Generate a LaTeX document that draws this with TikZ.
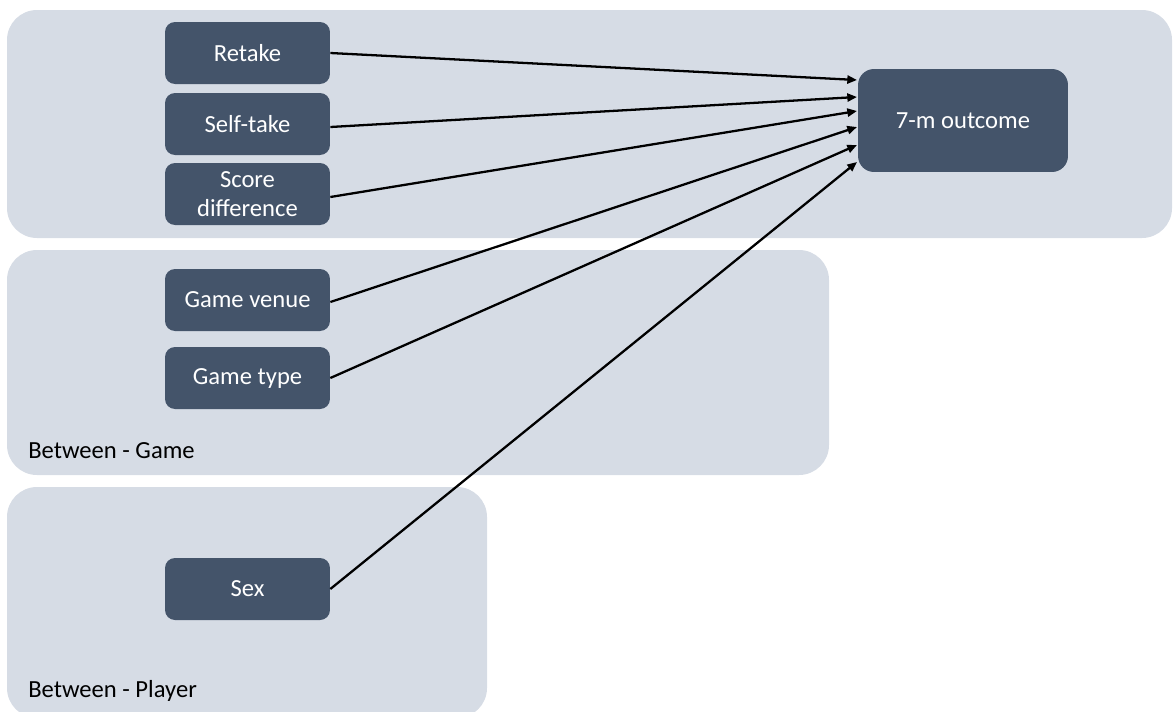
\documentclass[tikz,border=0pt]{standalone}
\usepackage{fontspec}
\setmainfont{Carlito}
\usetikzlibrary{arrows.meta}
\definecolor{grp}{HTML}{D6DCE5}
\definecolor{box}{HTML}{44546A}
\tikzset{
  grpbg/.style={fill=grp, rounded corners=0.6cm},
  varbox/.style={fill=box, text=white, rounded corners=0.2cm, minimum width=3.3cm, minimum height=1.24cm, inner sep=0pt, align=center, font=\fontsize{14}{16.5}\selectfont},
  outbox/.style={fill=box, text=white, rounded corners=0.32cm, minimum width=4.2cm, minimum height=2.06cm, inner sep=0pt, font=\fontsize{14}{16.5}\selectfont},
  grplabel/.style={anchor=base west, inner sep=0pt, text=black, font=\fontsize{14}{16.5}\selectfont},
  arr/.style={-{Triangle[length=5.5pt,width=4.6pt]}, line width=1.3pt, black}
}
\begin{document}
\begin{tikzpicture}[x=0.02cm, y=-0.02cm]
  \useasboundingbox (0,0) rectangle (1173,711);
  \begin{scope}
    \clip (0,0) rectangle (1173,711);
    \fill[grpbg] (7,10) rectangle (1172,238);
    \fill[grpbg] (7,250) rectangle (829,475);
    \fill[grpbg] (7,487) rectangle (487,718);
  \end{scope}
  \node[grplabel] (lgame) at (28,458) {Between - Game};
  \node[grplabel] (lplayer) at (28,697) {Between - Player};

  \node[varbox] (ret) at (247.5,53) {Retake};
  \node[varbox] (self) at (247.5,124) {Self-take};
  \node[varbox] (score) at (247.5,194) {Score\\difference};
  \node[varbox] (venue) at (247.5,300) {Game venue};
  \node[varbox] (type) at (247.5,378) {Game type};
  \node[varbox] (sex) at (247.5,589) {Sex};
  \node[outbox] (out) at (963,120.5) {7-m outcome};

  \coordinate (e1) at (857,80);
  \coordinate (e2) at (857,97);
  \coordinate (e3) at (857,111);
  \coordinate (e4) at (857,127);
  \coordinate (e5) at (857,145);
  \coordinate (e6) at (857,162);

  \draw[arr] (ret.east) -- (e1);
  \draw[arr] (self.east) ++(0,3) -- (e2);
  \draw[arr] (score.east) ++(0,3) -- (e3);
  \draw[arr] (venue.east) ++(0,2) -- (e4);
  \draw[arr] (type.east) -- (e5);
  \draw[arr] (sex.east) -- (e6);
\end{tikzpicture}
\end{document}
